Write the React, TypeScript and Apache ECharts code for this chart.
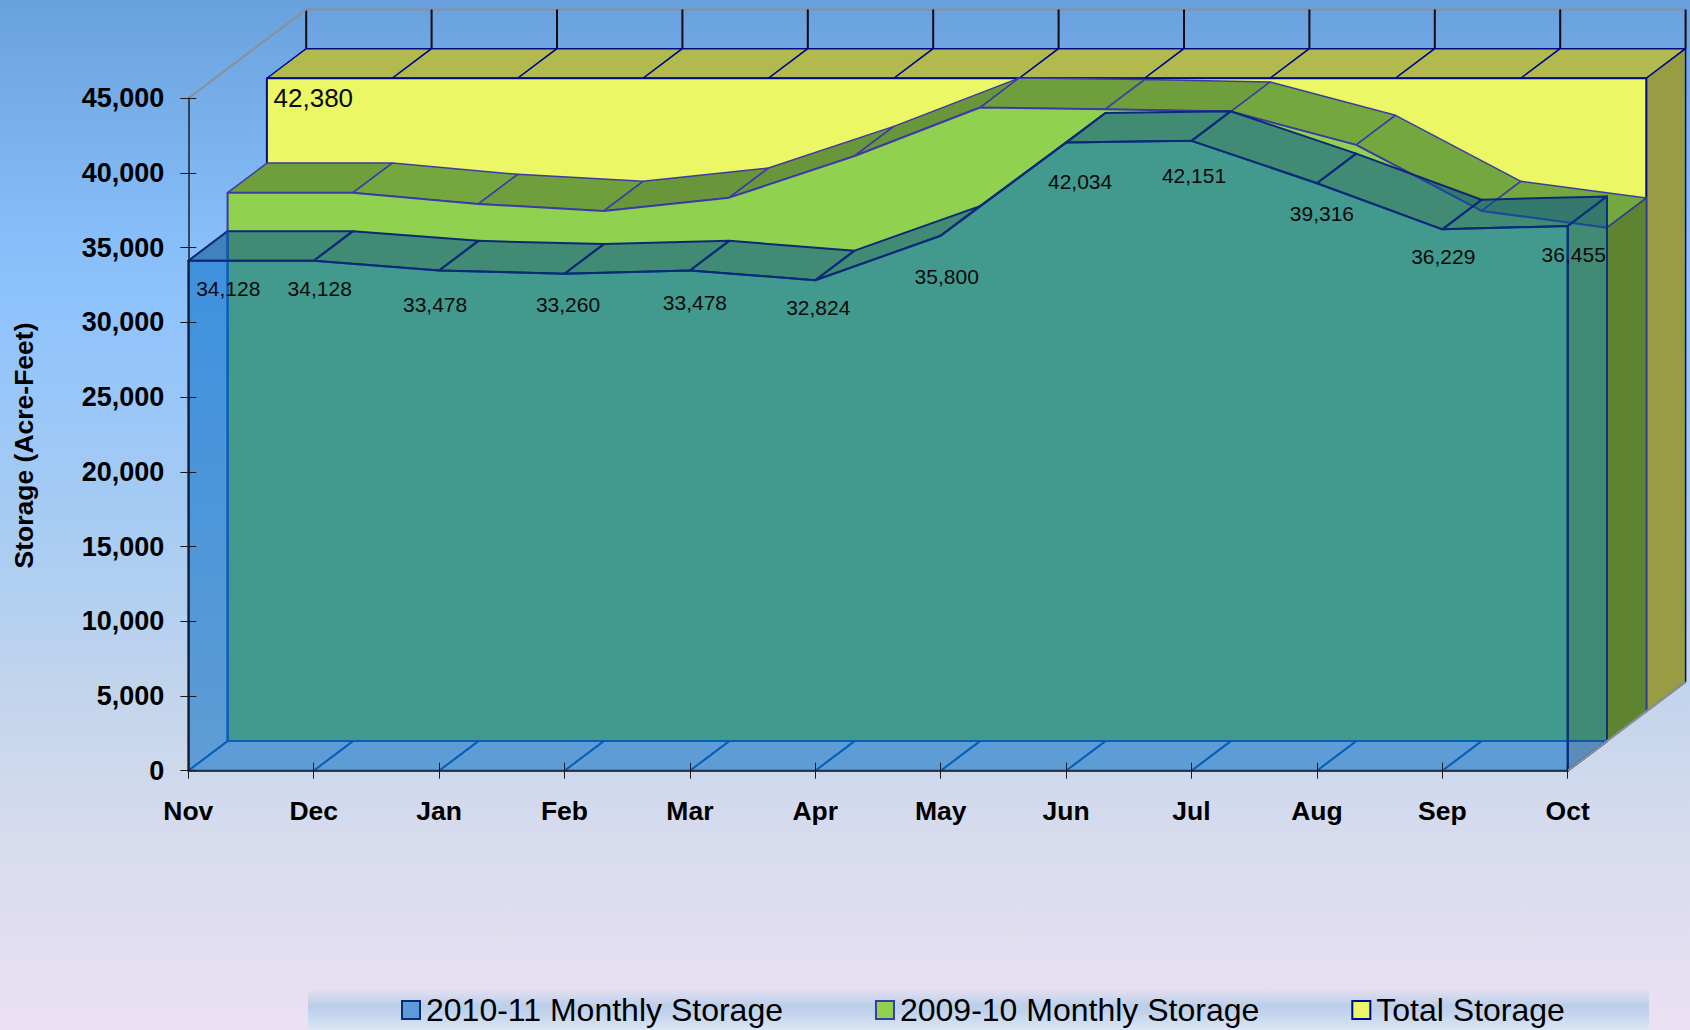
import React, { useEffect, useRef } from "react";
import * as echarts from "echarts";

const categories = ["Nov", "Dec", "Jan", "Feb", "Mar", "Apr", "May", "Jun", "Jul", "Aug", "Sep", "Oct"];
const storage1011 = [34128, 34128, 33478, 33260, 33478, 32824, 35800, 42034, 42151, 39316, 36229, 36455];
const storage0910 = [36700, 36700, 35950, 35480, 36370, 39160, 42400, 42290, 42130, 39900, 35480, 34360];
const totalStorage = [42380, 42380, 42380, 42380, 42380, 42380, 42380, 42380, 42380, 42380, 42380, 42380];

const labelOffsets1011 = [[40, 28], [6, 28], [-4, 34.5], [3.5, 31], [5, 32.5], [3, 27], [6, 41], [14, 39], [2.5, 35], [5, 30], [1, 27], [6, 28.5]];

const NAME_BLUE = "2010-11 Monthly Storage";
const NAME_GREEN = "2009-10 Monthly Storage";
const NAME_TOTAL = "Total Storage";
const FONT = '"Liberation Sans", Arial, sans-serif';

const DX = 39.3;
const DY = -29.6;

const fmt = (v: number) => Math.round(v).toLocaleString("en-US");

type Look = {
  front: string;
  frontStroke: string;
  frontWidth: number;
  top: (dv: number) => string;
  topStroke: string;
  topWidth: number;
  side: string;
  sideStroke: string;
  depth: number;
};

function poly(points: number[][], fill: string, stroke: string, lineWidth: number) {
  return { type: "polygon", shape: { points }, style: { fill, stroke, lineWidth, lineJoin: "round" }, silent: true };
}
function seg(a: number[], b: number[], stroke: string, lineWidth: number) {
  return { type: "line", shape: { x1: a[0], y1: a[1], x2: b[0], y2: b[1] }, style: { stroke, lineWidth, fill: "none" }, silent: true };
}

function areaSeries(name: string, values: number[], look: Look) {
  const d = look.depth;
  return {
    type: "custom",
    name,
    silent: true,
    data: values.map((v, i) => [i, v]),
    itemStyle: { color: look.front, borderColor: look.frontStroke },
    renderItem: (params: any, api: any) => {
      const i = params.dataIndex;
      const n = values.length;
      const at = (k: number, v: number, depth: number) => {
        const p = api.coord([k, v]);
        return [p[0] + DX * depth, p[1] + DY * depth];
      };
      const children: any[] = [];
      const v = api.value(1);
      if (i < n - 1) {
        const next = api.value(1, i + 1);
        children.push(
          poly([at(i, v, d), at(i + 1, next, d), at(i + 1, next, d + 1), at(i, v, d + 1)], look.top(next - v), look.topStroke, look.topWidth)
        );
      } else {
        children.push(
          poly([at(i, v, d), at(i, v, d + 1), at(i, 0, d + 1), at(i, 0, d)], look.side, look.sideStroke, look.topWidth)
        );
        if (d === 0) {
          children.push(seg(at(0, api.value(1, 0), 1), at(0, 0, 1), "#0c57a6", 2));
          children.push(seg(at(0, 0, 1), at(n - 1, 0, 1), "#0c57a6", 2));
          for (let k = 0; k < n; k++) {
            children.push(seg(at(k, 0, 0), at(k, 0, 1), "#0a50a0", 2));
          }
        }
        const pts: number[][] = [];
        for (let k = 0; k < n; k++) pts.push(at(k, api.value(1, k), d));
        pts.push(at(n - 1, 0, d));
        pts.push(at(0, 0, d));
        children.push(poly(pts, look.front, look.frontStroke, look.frontWidth));
        if (d === 0) {
          children.push(seg(at(n - 1, 0, 0), at(n - 1, 0, 3), "#8b8f96", 2));
        }
      }
      return { type: "group", children };
    },
  };
}

function labelSeries(name: string, values: number[], offsets: number[][], fontSize: number) {
  return {
    type: "custom",
    name,
    silent: true,
    z: 5,
    data: values.map((v, i) => [i, v]),
    renderItem: (params: any, api: any) => {
      const p = api.coord([api.value(0), api.value(1)]);
      const o = offsets[params.dataIndex];
      return {
        type: "text",
        silent: true,
        style: {
          x: p[0] + o[0],
          y: p[1] + o[1],
          text: fmt(api.value(1)),
          align: "center",
          verticalAlign: "middle",
          fontSize,
          fontFamily: FONT,
          fill: "#0a0a0a",
        },
      };
    },
  };
}

const wallSeries = {
  type: "custom",
  name: "walls",
  silent: true,
  data: categories.map((_, i) => [i, totalStorage[i]]),
  renderItem: (params: any, api: any) => {
    const i = params.dataIndex;
    const at = (k: number, v: number, depth: number) => {
      const p = api.coord([k, v]);
      return [p[0] + DX * depth, p[1] + DY * depth];
    };
    const children: any[] = [seg(at(i, 45000, 3), at(i, api.value(1), 3), "#0a0a14", 2)];
    if (i === 0) {
      children.push(seg(at(0, 45000, 0), at(0, 45000, 3), "#8b8f96", 2));
      children.push(seg(at(0, 45000, 3), at(categories.length - 1, 45000, 3), "#8b8f96", 2));
    }
    return { type: "group", children };
  },
};

export default function App() {
  const ref = useRef<HTMLDivElement>(null);
  useEffect(() => {
    const chart = echarts.init(ref.current!, undefined, { renderer: "svg" });
    const grad = (stops: [number, string][]) =>
      new echarts.graphic.LinearGradient(0, 0, 0, 1, stops.map(([offset, color]) => ({ offset, color })));
    const axisText = { fontFamily: FONT, fontWeight: "bold" as const, color: "#000" };
    chart.setOption({
      animation: false,
      backgroundColor: grad([
        [0, "#69a1de"],
        [0.22, "#86bdf8"],
        [0.3, "#8fc3fc"],
        [0.5, "#a6cbf3"],
        [0.68, "#c3d5ec"],
        [0.78, "#d3daed"],
        [1, "#ebe1f3"],
      ]),
      grid: { left: 188.3, top: 98.3, width: 1379.4, height: 672.4, containLabel: false },
      xAxis: [
        {
          type: "category",
          data: categories,
          boundaryGap: false,
          z: 10,
          axisLine: { lineStyle: { color: "#30343c", width: 1.5 } },
          axisTick: { show: true, length: 8, alignWithLabel: true, lineStyle: { color: "#1a1a1a", width: 1 } },
          axisLabel: { ...axisText, fontSize: 26.5, interval: 0, margin: 27 },
          splitLine: { show: false },
        },
        {
          type: "category",
          data: categories,
          boundaryGap: false,
          position: "bottom",
          z: 10,
          axisLine: { show: false },
          axisTick: { show: true, inside: true, length: 8, lineStyle: { color: "#1a1a1a", width: 1 } },
          axisLabel: { show: false },
          splitLine: { show: false },
        },
      ],
      yAxis: [
        {
          type: "value",
          min: 0,
          max: 45000,
          interval: 5000,
          z: 10,
          name: "Storage (Acre-Feet)",
          nameLocation: "middle",
          nameGap: 151,
          nameRotate: 90,
          nameTextStyle: { ...axisText, fontSize: 26.5, padding: [0, 22, 0, 0] },
          axisLine: { show: true, lineStyle: { color: "#1a1e28", width: 1.5 } },
          axisTick: { show: true, length: 8, lineStyle: { color: "#1a1a1a", width: 1 } },
          axisLabel: { ...axisText, fontSize: 27, margin: 24, padding: [2, 0, 0, 0], formatter: (v: number) => fmt(v) },
          splitLine: { show: false },
        },
        {
          type: "value",
          min: 0,
          max: 45000,
          interval: 5000,
          position: "left",
          z: 10,
          axisLine: { show: false },
          axisTick: { show: true, inside: true, length: 8, lineStyle: { color: "#1a1a1a", width: 1 } },
          axisLabel: { show: false },
          splitLine: { show: false },
        },
      ],
      legend: {
        left: 401,
        top: 994,
        padding: 0,
        itemGap: 92,
        itemWidth: 18,
        itemHeight: 18,
        selectedMode: false,
        icon: "rect",
        textStyle: { fontFamily: FONT, fontSize: 32, color: "#000", padding: [0, 0, 0, 1] },
        data: [
          { name: NAME_BLUE, itemStyle: { color: "#5a9dd8", borderColor: "#0a2a78", borderWidth: 2 } },
          { name: NAME_GREEN, itemStyle: { color: "#90d24f", borderColor: "#3b3ba8", borderWidth: 2 } },
          { name: NAME_TOTAL, itemStyle: { color: "#ebf765", borderColor: "#000a8c", borderWidth: 2 } },
        ],
      },
      graphic: [
        {
          type: "rect",
          z: -1,
          silent: true,
          shape: { x: 308, y: 988, width: 1341, height: 42 },
          style: {
            fill: grad([
              [0, "#e7e1f2"],
              [0.42, "#bccfe9"],
              [0.6, "#c2d3ec"],
              [1, "#dce7f6"],
            ]),
          },
        },
      ],
      series: [
        wallSeries,
        areaSeries(NAME_TOTAL, totalStorage, {
          depth: 2,
          front: "#ebf765",
          frontStroke: "#000a8c",
          frontWidth: 2,
          top: () => "#b2ba4e",
          topStroke: "#000a8c",
          topWidth: 1.5,
          side: "#989c42",
          sideStroke: "#000a8c",
        }),
        areaSeries(NAME_GREEN, storage0910, {
          depth: 1,
          front: "#90d24f",
          frontStroke: "#3b3ba8",
          frontWidth: 2,
          top: (dv) => (dv < -500 ? "#74a83e" : dv > 500 ? "#69963a" : "#6f9e3c"),
          topStroke: "#3b3ba8",
          topWidth: 1.5,
          side: "#5e8431",
          sideStroke: "#2d3d9a",
        }),
        areaSeries(NAME_BLUE, storage1011, {
          depth: 0,
          front: "rgba(0,106,196,0.54)",
          frontStroke: "#0a2a78",
          frontWidth: 2,
          top: () => "rgba(3,82,145,0.56)",
          topStroke: "#0a2a78",
          topWidth: 2,
          side: "rgba(3,82,145,0.56)",
          sideStroke: "#0a3080",
        }),
        labelSeries("2010-11 values", storage1011, labelOffsets1011, 21),
        labelSeries("Total value", totalStorage.slice(0, 1), [[125, -39]], 26),
      ],
    });
    return () => chart.dispose();
  }, []);
  return <div ref={ref} style={{ position: "fixed", left: 0, top: 0, width: 1690, height: 1030 }} />;
}
